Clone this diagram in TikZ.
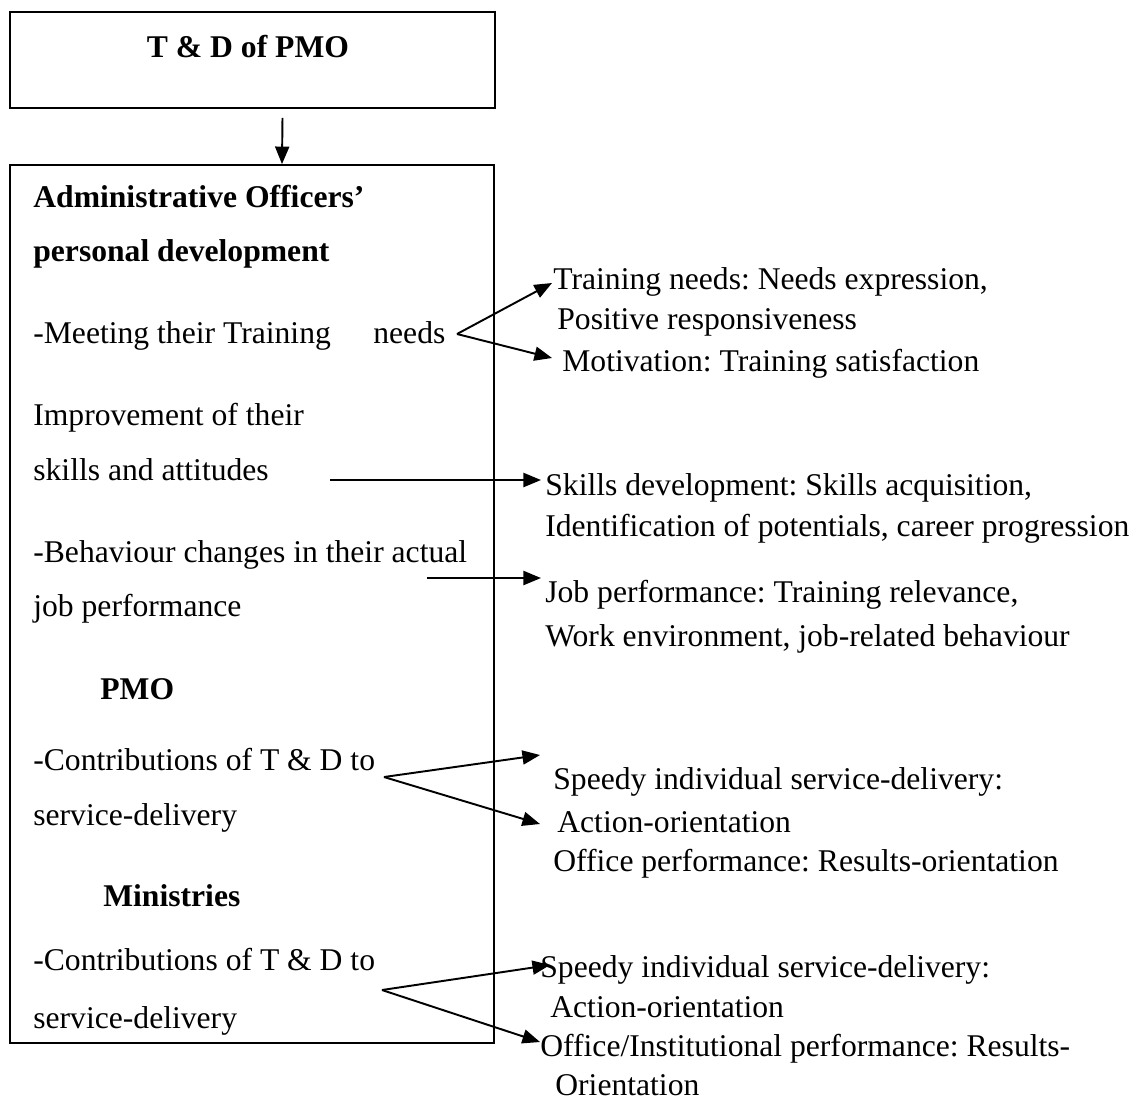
\documentclass[tikz,border=0pt]{standalone}
\usepackage{fontspec}
\setmainfont{Liberation Serif}
\frenchspacing
\usetikzlibrary{arrows.meta,positioning}
\tikzset{
  node-box/.style={draw,line width=1.1pt,inner sep=0pt},
  node-line/.style={anchor=base west,inner sep=0pt,font=\fontsize{18}{20}\selectfont},
  node-head/.style={anchor=base west,inner sep=0pt,font=\fontsize{18}{20}\selectfont\bfseries},
  arrow/.style={-{Triangle[length=10pt,width=8pt]},line width=1.1pt},
}

\begin{document}
\begin{tikzpicture}[x=0.02cm,y=-0.02cm]
  \useasboundingbox (0,0) rectangle (1146,1100);
  % boxes
  \node[node-box,minimum width=9.7cm,minimum height=1.92cm] (pmo) at (252.5,60) {};
  \node[node-head,anchor=base] (pmo-title) at (248,57) {T \& D of PMO};
  \node[node-box,minimum width=9.68cm,minimum height=17.56cm] (dev) at (252,604) {};
  \draw[arrow] ([xshift=0.6cm,yshift=-0.18cm]pmo.south) -- ([xshift=0.6cm]dev.north);

  % left column
  \node[node-head] (h-admin) at (33,207) {Administrative Officers'};
  \node[node-head] (h-pers) at (33,261) {personal development};
  \node[node-line] (l-meet) at (33,343) {-Meeting their Training};
  \node[node-line] (l-needs) at (373,343) {needs};
  \node[node-line] (l-impr1) at (33,425) {Improvement of their};
  \node[node-line] (l-impr2) at (33,480) {skills and attitudes};
  \node[node-line] (l-beh1) at (33,562) {-Behaviour changes in their actual};
  \node[node-line] (l-beh2) at (33,616) {job performance};
  \node[node-head] (h-pmo) at (100,699) {PMO};
  \node[node-line] (l-cpmo1) at (33,770) {-Contributions of T \& D to};
  \node[node-line] (l-cpmo2) at (33,825) {service-delivery};
  \node[node-head] (h-min) at (103,906) {Ministries};
  \node[node-line] (l-cmin1) at (33,970) {-Contributions of T \& D to};
  \node[node-line] (l-cmin2) at (33,1028) {service-delivery};

  % right column
  \node[node-line] (r-train1) at (553,289) {Training needs: Needs expression,};
  \node[node-line] (r-train2) at (557,329) {Positive responsiveness};
  \node[node-line] (r-motiv) at (562,371) {Motivation: Training satisfaction};
  \node[node-line] (r-skill1) at (545,495) {Skills development: Skills acquisition,};
  \node[node-line] (r-skill2) at (545,536) {Identification of potentials, career progression};
  \node[node-line] (r-job1) at (545,602) {Job performance: Training relevance,};
  \node[node-line] (r-job2) at (545,646) {Work environment, job-related behaviour};
  \node[node-line] (r-sp1) at (553,789) {Speedy individual service-delivery:};
  \node[node-line] (r-sp2) at (557,832) {Action-orientation};
  \node[node-line] (r-off) at (553,871) {Office performance: Results-orientation};
  \node[node-line] (r-msp1) at (540,977) {Speedy individual service-delivery:};
  \node[node-line] (r-msp2) at (550,1017) {Action-orientation};
  \node[node-line] (r-moff1) at (540,1056) {Office/Institutional performance: Results-};
  \node[node-line] (r-moff2) at (555,1095) {Orientation};

  % arrow ends
  \coordinate (a-needs) at (457,334);
  \coordinate (a-train) at (552,283);
  \coordinate (a-motiv) at (552,358);
  \coordinate (a-skill) at (330,480);
  \coordinate (a-skill-t) at (541,480);
  \coordinate (a-job) at (427,578);
  \coordinate (a-job-t) at (541,578);
  \coordinate (a-pmo) at (384,777);
  \coordinate (a-pmo-sp) at (540,755);
  \coordinate (a-pmo-off) at (540,824);
  \coordinate (a-min) at (382,990);
  \coordinate (a-min-sp) at (550,965);
  \coordinate (a-min-off) at (540,1042);

  \draw[arrow] (a-needs) -- (a-train);
  \draw[arrow] (a-needs) -- (a-motiv);
  \draw[arrow] (a-skill) -- (a-skill-t);
  \draw[arrow] (a-job) -- (a-job-t);
  \draw[arrow] (a-pmo) -- (a-pmo-sp);
  \draw[arrow] (a-pmo) -- (a-pmo-off);
  \draw[arrow] (a-min) -- (a-min-sp);
  \draw[arrow] (a-min) -- (a-min-off);
\end{tikzpicture}
\end{document}
